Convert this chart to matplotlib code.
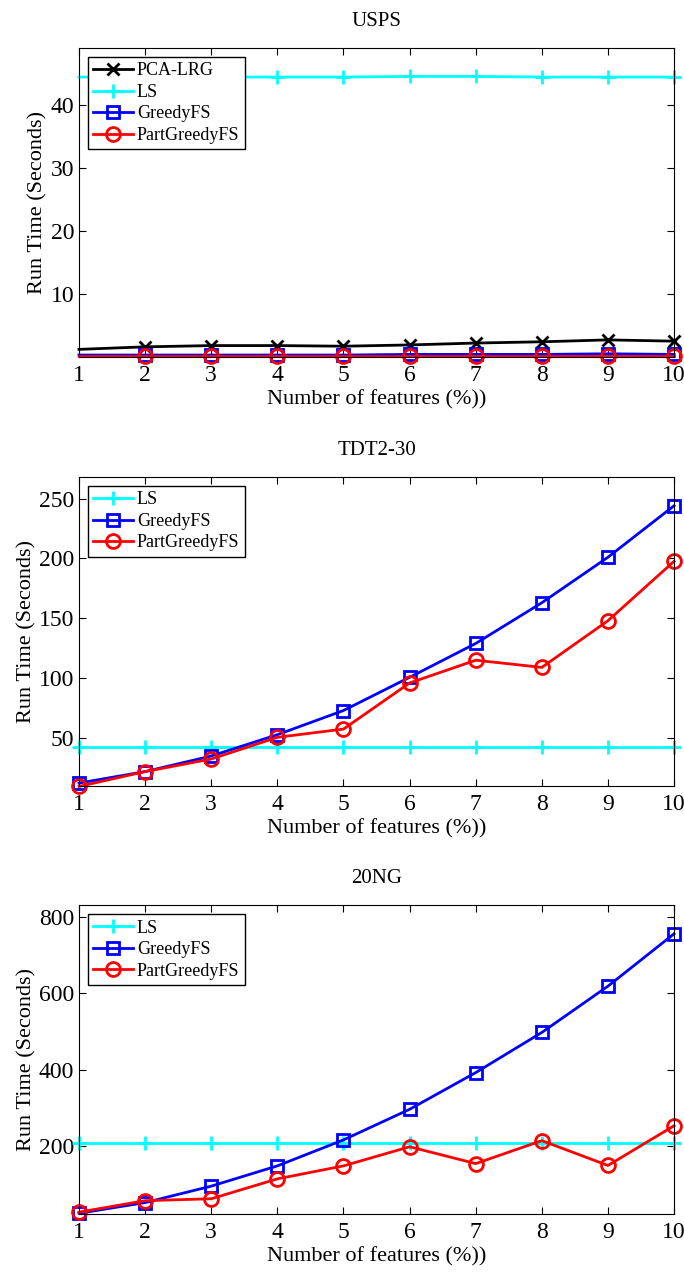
import matplotlib
matplotlib.use('Agg')
import matplotlib.pyplot as plt

# Donnees
x = list(range(1, 11))

usps_pca = [1.3, 1.7, 1.9, 1.9, 1.8, 2.0, 2.3, 2.5, 2.8, 2.6]
usps_ls = [44.4, 44.4, 44.4, 44.4, 44.4, 44.5, 44.5, 44.4, 44.4, 44.4]
usps_greedy = [0.4, 0.4, 0.4, 0.4, 0.4, 0.5, 0.5, 0.5, 0.6, 0.5]
usps_part = [0.2, 0.2, 0.2, 0.2, 0.2, 0.2, 0.2, 0.2, 0.2, 0.2]

tdt_ls = [42.2] * 10
tdt_greedy = [12.4, 22, 35, 52.8, 73, 100.7, 129, 163, 201, 244]
tdt_part = [9.6, 22, 32.5, 50.6, 57.5, 96, 115, 109, 148, 197.6]

ng_ls = [207] * 10
ng_greedy = [24, 52, 95, 148, 216, 296, 392, 497, 618, 755]
ng_part = [27, 57, 62, 114, 148, 198, 154, 214, 149, 253]

titles = ['USPS', 'TDT2-30', '20NG']
ylims = [(0.1, 49), (10, 268), (22, 830)]
yticks = [[10, 20, 30, 40], [50, 100, 150, 200, 250], [200, 400, 600, 800]]

plt.rcParams['font.family'] = 'Liberation Serif'

fig = plt.figure(figsize=(6.84, 12.73), dpi=100)
bottoms = [0.7196, 0.3826, 0.0463]

series = [
    [('PCA-LRG', usps_pca, 'k', 'x'), ('LS', usps_ls, 'cyan', '+'),
     ('GreedyFS', usps_greedy, 'blue', 's'), ('PartGreedyFS', usps_part, 'red', 'o')],
    [('LS', tdt_ls, 'cyan', '+'), ('GreedyFS', tdt_greedy, 'blue', 's'),
     ('PartGreedyFS', tdt_part, 'red', 'o')],
    [('LS', ng_ls, 'cyan', '+'), ('GreedyFS', ng_greedy, 'blue', 's'),
     ('PartGreedyFS', ng_part, 'red', 'o')],
]

for i in range(3):
    ax = fig.add_axes([0.1155, bottoms[i], 0.870, 0.2427])
    # sur USPS les marqueurs du premier point ne sont pas visibles
    every = list(range(1, 10)) if i == 0 else None
    for name, vals, col, mk in series[i]:
        ms = 10 if mk in ('+', 'o') else 8
        ax.plot(x, vals, color=col, marker=mk, markersize=ms, markerfacecolor='none',
                markeredgewidth=2, linewidth=2, label=name, clip_on=False,
                markevery=every)
    ax.set_xlim(1, 10)
    ax.set_ylim(*ylims[i])
    ax.set_xticks(x)
    ax.set_yticks(yticks[i])
    ax.tick_params(direction='in', top=True, right=True, labelsize=17, length=5)
    ax.tick_params(axis='x', pad=6)
    ax.set_title(titles[i], fontsize=15, pad=16)
    ax.set_xlabel('Number of features (%))', fontsize=16, labelpad=3)
    ax.set_ylabel('Run Time (Seconds)', fontsize=16, labelpad=2)
    leg = ax.legend(loc='upper left', fontsize=13, fancybox=False, framealpha=1,
                    edgecolor='k', handlelength=2.2, handletextpad=0.2,
                    borderpad=0.3, labelspacing=0.25, borderaxespad=0.5)
    leg.get_frame().set_linewidth(1)

fig.savefig('out.png', dpi=100)
